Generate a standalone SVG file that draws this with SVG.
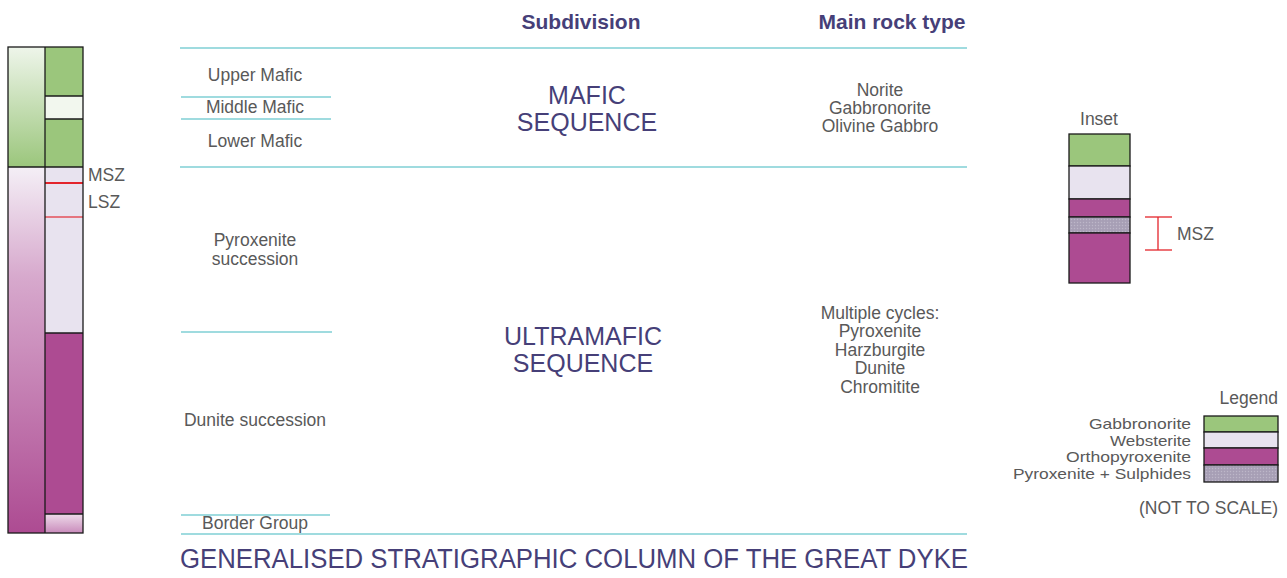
<svg xmlns="http://www.w3.org/2000/svg" width="1287" height="578" viewBox="0 0 1287 578">
<style>
.t{font-family:"Liberation Sans",Arial,sans-serif;fill:#595959;font-size:17.5px}
.lg{font-size:15px}
.c{text-anchor:middle}
.r{text-anchor:end}
.p{font-family:"Liberation Sans",Arial,sans-serif;fill:#463f78}
.h{font-weight:bold;font-size:21px}
.big{font-size:25px}
.cy{stroke:#7fcfd5;stroke-width:1.3;fill:none}
.bx{stroke:#1a1a1a;stroke-width:1.3}
.g{fill:#9bc67c}
.w{fill:#e8e3ef}
.o{fill:#ad4b92}
.s{fill:url(#sulph)}
</style>
<defs>
<linearGradient id="gtop" x1="0" y1="0" x2="0" y2="1">
<stop offset="0" stop-color="#eef5ea"/><stop offset="1" stop-color="#9bc67c"/>
</linearGradient>
<linearGradient id="gbot" x1="0" y1="0" x2="0" y2="1">
<stop offset="0" stop-color="#f4eff6"/><stop offset="0.3" stop-color="#d7a9cd"/><stop offset="1" stop-color="#ad4b92"/>
</linearGradient>
<linearGradient id="gbase" x1="0" y1="0" x2="0" y2="1">
<stop offset="0" stop-color="#eedbea"/><stop offset="1" stop-color="#c98bbb"/>
</linearGradient>
<pattern id="sulph" width="3" height="3" patternUnits="userSpaceOnUse">
<rect width="3" height="3" fill="#aaa2b8"/>
<rect width="1" height="1" fill="#bdb7c8"/>
<rect x="1.5" y="1.5" width="1" height="1" fill="#9d95ad"/>
</pattern>
</defs>

<g id="column">
<rect x="8" y="47" width="37" height="120" fill="url(#gtop)"/>
<rect x="8" y="167" width="37" height="366" fill="url(#gbot)"/>
<rect x="45" y="47" width="38" height="49" class="g"/>
<rect x="45" y="96" width="38" height="23" fill="#f2f7ee"/>
<rect x="45" y="119" width="38" height="48" class="g"/>
<rect x="45" y="167" width="38" height="166" class="w"/>
<rect x="45" y="333" width="38" height="181" class="o"/>
<rect x="45" y="514" width="38" height="19" fill="url(#gbase)"/>
<line x1="45" y1="183" x2="83" y2="183" stroke="#e3242b" stroke-width="2.2"/>
<line x1="45" y1="217" x2="83" y2="217" stroke="#e4505a" stroke-width="1.3"/>
<g fill="none" class="bx">
<rect x="8" y="47" width="75" height="486"/>
<line x1="45" y1="47" x2="45" y2="533"/>
<line x1="8" y1="167" x2="83" y2="167"/>
<line x1="45" y1="96" x2="83" y2="96"/>
<line x1="45" y1="119" x2="83" y2="119"/>
<line x1="45" y1="333" x2="83" y2="333"/>
<line x1="45" y1="514" x2="83" y2="514"/>
</g>
<text class="t" x="88" y="181">MSZ</text>
<text class="t" x="88" y="208">LSZ</text>
</g>

<g id="connectors">
<line class="cy" x1="180" y1="48" x2="967" y2="48"/>
<line class="cy" x1="181" y1="97" x2="331" y2="97"/>
<line class="cy" x1="181" y1="119" x2="331" y2="119"/>
<line class="cy" x1="180" y1="167" x2="967" y2="167"/>
<line class="cy" x1="181" y1="332" x2="332" y2="332"/>
<line class="cy" x1="181" y1="515" x2="330" y2="515"/>
<line class="cy" x1="181" y1="534" x2="967" y2="534"/>
</g>

<g id="headers">
<text class="p h c" x="581" y="29">Subdivision</text>
<text class="p h c" x="892" y="29">Main rock type</text>
</g>

<g id="left-labels">
<text class="t c" x="255" y="81">Upper Mafic</text>
<text class="t c" x="255" y="113">Middle Mafic</text>
<text class="t c" x="255" y="147">Lower Mafic</text>
<text class="t c" x="255" y="246">Pyroxenite</text>
<text class="t c" x="255" y="265">succession</text>
<text class="t c" x="255" y="426">Dunite succession</text>
<text class="t c" x="255" y="529">Border Group</text>
</g>

<g id="mafic">
<text class="p big c" x="587" y="104">MAFIC</text>
<text class="p big c" x="587" y="131">SEQUENCE</text>
<text class="t c" x="880" y="96">Norite</text>
<text class="t c" x="880" y="114">Gabbronorite</text>
<text class="t c" x="880" y="132">Olivine Gabbro</text>
</g>

<g id="ultramafic">
<text class="p big c" x="583" y="345">ULTRAMAFIC</text>
<text class="p big c" x="583" y="372">SEQUENCE</text>
<text class="t c" x="880" y="319">Multiple cycles:</text>
<text class="t c" x="880" y="337">Pyroxenite</text>
<text class="t c" x="880" y="356">Harzburgite</text>
<text class="t c" x="880" y="374">Dunite</text>
<text class="t c" x="880" y="393">Chromitite</text>
</g>

<g id="inset">
<text class="t c" x="1099" y="125">Inset</text>
<rect x="1069" y="134" width="61" height="32" class="g bx"/>
<rect x="1069" y="166" width="61" height="33" class="w bx"/>
<rect x="1069" y="199" width="61" height="18" class="o bx"/>
<rect x="1069" y="217" width="61" height="16" class="s bx"/>
<rect x="1069" y="233" width="61" height="50" class="o bx"/>
<g stroke="#e3242b" stroke-width="1.3">
<line x1="1145" y1="217" x2="1172" y2="217"/>
<line x1="1145" y1="250" x2="1172" y2="250"/>
<line x1="1158" y1="217" x2="1158" y2="250"/>
</g>
<text class="t" x="1177" y="240">MSZ</text>
</g>

<g id="legend">
<text class="t r" x="1278" y="404">Legend</text>
<rect x="1204" y="416" width="74" height="16" class="g bx"/>
<rect x="1204" y="432" width="74" height="16" class="w bx"/>
<rect x="1204" y="448" width="74" height="17" class="o bx"/>
<rect x="1204" y="465" width="74" height="17" class="s bx"/>
<text class="t lg" x="1089" y="429" textLength="102" lengthAdjust="spacingAndGlyphs">Gabbronorite</text>
<text class="t lg" x="1110" y="446" textLength="81" lengthAdjust="spacingAndGlyphs">Websterite</text>
<text class="t lg" x="1066" y="462" textLength="125" lengthAdjust="spacingAndGlyphs">Orthopyroxenite</text>
<text class="t lg" x="1013" y="479" textLength="178" lengthAdjust="spacingAndGlyphs">Pyroxenite + Sulphides</text>
<text class="t r" x="1278" y="514">(NOT TO SCALE)</text>
</g>

<g id="title">
<text class="p" x="180" y="568" font-size="27" textLength="788" lengthAdjust="spacingAndGlyphs">GENERALISED STRATIGRAPHIC COLUMN OF THE GREAT DYKE</text>
</g>
</svg>
